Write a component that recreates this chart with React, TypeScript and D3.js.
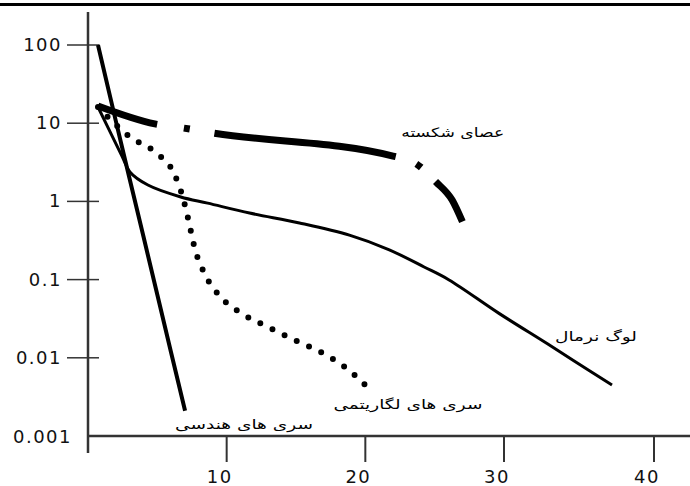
import * as d3 from 'd3'

// rank on x, relative abundance (log) on y
const xTicks = [10, 20, 30, 40]
const yTicks = [100, 10, 1, 0.1, 0.01, 0.001]
const yTickLabels = ['100', '10', '1', '0.1', '0.01', '0.001']

// سری های هندسی
const geoX = [0.72, 2, 3, 4, 5, 6, 7.0]
const geoY = [100, 10.8, 1.95, 0.355, 0.064, 0.0115, 0.0021]

// عصای شکسته
const stickX = [0.72, 4.82, 6.83, 8.99, 22.0, 23.7, 25.1, 26.26, 27.0]
const stickY = [16.6, 9.8, 8.7, 7.5, 3.8, 3.0, 1.77, 1.04, 0.55]

// سری های لگاریتمی
const logSerX = [0.72, 3.02, 4.89, 6.19, 6.83, 7.27, 7.7, 8.35, 9.42, 11.08, 12.95, 14.89, 16.91, 18.71, 20.22]
const logSerY = [16.1, 6.7, 4.2, 2.3, 1.14, 0.55, 0.25, 0.125, 0.064, 0.037, 0.025, 0.0169, 0.0115, 0.0072, 0.0041]

// لوگ نرمال
const lnX = [0.72, 2.45, 3.02, 4.32, 6.69, 8.63, 11.65, 15.25, 18.85, 21.73, 24.24, 26.04, 29.64, 32.87, 34.6, 37.2]
const lnY = [16.1, 3.8, 2.38, 1.62, 1.14, 0.95, 0.71, 0.53, 0.37, 0.24, 0.145, 0.099, 0.037, 0.0152, 0.0093, 0.0045]

const labels = [
  { text: 'عصای شکسته', x: 26.3, y: 6.65, w: 103 },
  { text: 'لوگ نرمال', x: 36.13, y: 0.0164, w: 82 },
  { text: 'سری های لگاریتمی', x: 23.07, y: 0.0022, w: 149 },
  { text: 'سری های هندسی', x: 11.25, y: 0.00123, w: 138 },
]

const W = 690
const H = 486

export default function App() {
  const x = d3.scaleLinear().domain([0, 30, 40]).range([88, 504, 654])
  const y = d3.scaleLog().domain([0.001, 100]).range([436, 45])

  const pts = (xs: number[], ys: number[]) => xs.map((v, i) => [v, ys[i]] as [number, number])

  const straight = d3.line<[number, number]>().x(d => x(d[0])).y(d => y(d[1]))
  const smooth = d3.line<[number, number]>().x(d => x(d[0])).y(d => y(d[1])).curve(d3.curveMonotoneX)
  const soft = d3.line<[number, number]>().x(d => x(d[0])).y(d => y(d[1])).curve(d3.curveCatmullRom.alpha(0.5))

  const axisColor = '#333'
  const numFont = '"DejaVu Sans", Arial, sans-serif'

  return (
    <svg width={W} height={H} style={{ position: 'absolute', left: 0, top: 0, background: '#fff' }}>
      <rect x={0} y={3} width={W} height={3} fill="#000" />

      {/* y axis */}
      <line x1={88} x2={88} y1={12} y2={453} stroke={axisColor} strokeWidth={2.5} />
      {yTicks.map((t, i) => (
        <g key={t}>
          {t !== 0.001 && <line x1={67} x2={99} y1={y(t)} y2={y(t)} stroke={axisColor} strokeWidth={1.5} />}
          <text x={t === 0.001 ? 72 : 62} y={y(t) + (t === 0.001 ? 7 : 6)} textAnchor="end"
            fontFamily={numFont} fontSize={18} letterSpacing={1.5} fill="#111">{yTickLabels[i]}</text>
        </g>
      ))}

      {/* x axis */}
      <line x1={87} x2={W} y1={436} y2={436} stroke={axisColor} strokeWidth={2.5} />
      {xTicks.map(t => (
        <g key={t}>
          <line x1={x(t)} x2={x(t)} y1={436} y2={462} stroke={axisColor} strokeWidth={2} />
          <text x={x(t) - 7} y={483} textAnchor="middle" fontFamily={numFont} fontSize={18}
            letterSpacing={1.5} fill="#111">{t}</text>
        </g>
      ))}

      {/* series */}
      <path d={straight(pts(geoX, geoY)) ?? ''} fill="none" stroke="#000" strokeWidth={4} />
      <path d={soft(pts(lnX, lnY)) ?? ''} fill="none" stroke="#000" strokeWidth={3} />
      <path d={smooth(pts(logSerX, logSerY)) ?? ''} fill="none" stroke="#000" strokeWidth={6}
        strokeLinecap="round" strokeDasharray="0 13.5" />
      <path d={smooth(pts(stickX, stickY)) ?? ''} fill="none" stroke="#000" strokeWidth={7}
        strokeDasharray="62 27 6 25 183 22 6 20 80" />

      {labels.map(l => (
        <text key={l.text} x={x(l.x)} y={y(l.y)} textAnchor="middle" direction="rtl"
          textLength={l.w} lengthAdjust="spacingAndGlyphs"
          fontFamily='"DejaVu Sans", sans-serif' fontSize={13} fill="#000">{l.text}</text>
      ))}
    </svg>
  )
}
